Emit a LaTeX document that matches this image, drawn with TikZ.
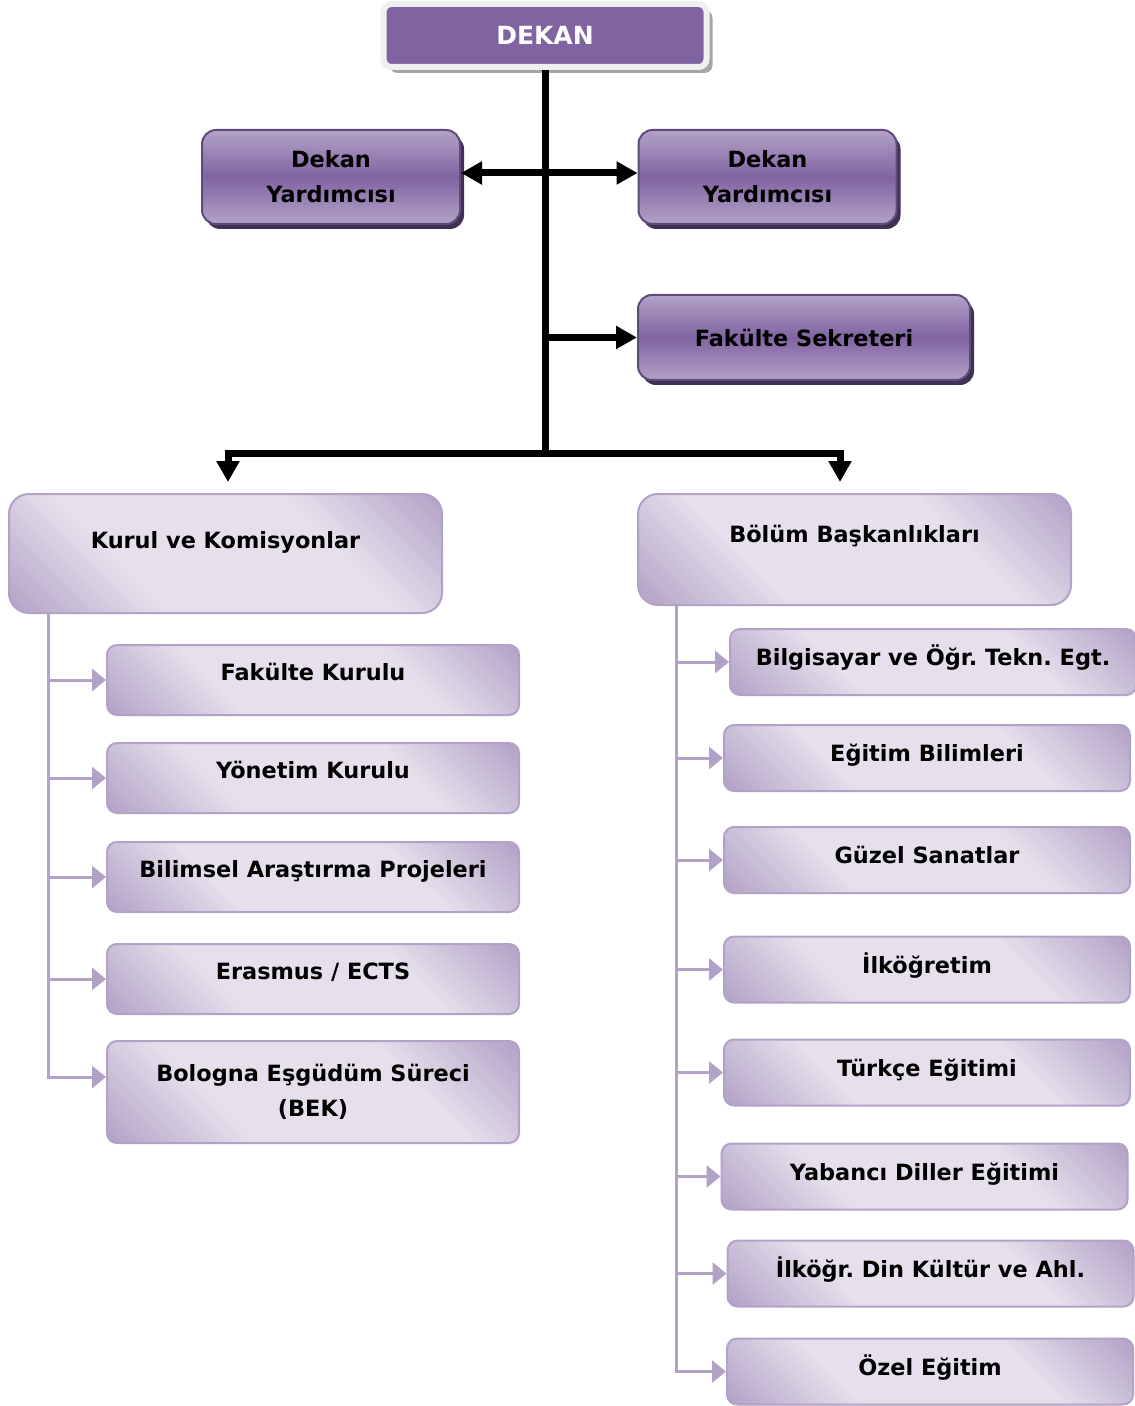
\documentclass[tikz,border=0pt]{standalone}
\usepackage{fontspec}
\setmainfont{DejaVu Sans}
\usetikzlibrary{arrows.meta,shadows,positioning}
\definecolor{mor}{HTML}{8064A2}
\definecolor{morkoyu}{HTML}{5F4A7D}
\definecolor{morgolge}{HTML}{403152}
\definecolor{moracik}{HTML}{B3A2C7}
\definecolor{morsoluk}{HTML}{E5E0EC}
\pgfdeclareverticalshading{morbant}{100bp}{color(0bp)=(moracik); color(25bp)=(moracik); color(50bp)=(mor); color(75bp)=(moracik); color(100bp)=(moracik)}
\pgfdeclarehorizontalshading{morcapraz}{100bp}{color(0bp)=(moracik); color(15bp)=(moracik); color(35bp)=(morsoluk); color(65bp)=(morsoluk); color(85bp)=(moracik); color(100bp)=(moracik)}
\frenchspacing
\begin{document}
\begin{tikzpicture}[x=0.5pt,y=-0.5pt,
  font=\fontsize{11.2}{17.5}\selectfont\bfseries,
  dekanbox/.style={draw=black!6, line width=3pt, fill=mor, rounded corners=4pt, minimum width=161.5pt, minimum height=31.5pt, text=white, font=\fontsize{12.5}{15}\selectfont\bfseries, drop shadow={shadow xshift=3pt, shadow yshift=-3pt, fill=black!35, opacity=1}},
  morkutu/.style={draw=morkoyu, line width=1pt, shading=morbant, rounded corners=7pt, align=center, inner sep=0pt, drop shadow={shadow xshift=2pt, shadow yshift=-2.5pt, fill=morgolge, opacity=1}},
  acikkutu/.style={draw=moracik, line width=1pt, shading=morcapraz, shading angle=45, rounded corners=5pt, align=center, inner sep=0pt, text height=0.75em},
  solkutu/.style={acikkutu, minimum width=206pt, minimum height=35pt, text depth=7pt},
  sagkutu/.style={acikkutu, minimum width=203pt, minimum height=33pt, text depth=4pt},
  kalin/.style={line width=3.5pt, -{Triangle[length=10.5pt,width=11pt]}},
  ince/.style={draw=moracik, line width=1.5pt, -{Triangle[length=7pt,width=11pt]}}]
\useasboundingbox (0,0) rectangle (1134,1406);
% ust kisim
\node (dekan) [dekanbox] at (545,35.5) {DEKAN};
\node (yrd1) [morkutu, minimum width=129pt, minimum height=47pt] at (331,177) {Dekan\\Yardımcısı};
\node (yrd2) [morkutu, minimum width=129pt, minimum height=47pt] at (767.5,177) {Dekan\\Yardımcısı};
\node (sekreter) [morkutu, minimum width=166pt, minimum height=42.5pt] at (804,337.5) {Fakülte Sekreteri};
\node (kurul) [acikkutu, rounded corners=10pt, minimum width=216.5pt, minimum height=59.5pt, text depth=12.5pt] at (225.5,553.5) {Kurul ve Komisyonlar};
\node (bolum) [acikkutu, rounded corners=10pt, minimum width=216.5pt, minimum height=55.5pt, text depth=14.5pt] at (854.5,549.5) {Bölüm Başkanlıkları};
% kurullar
\node (k1) [solkutu] at (313,680) {Fakülte Kurulu};
\node (k2) [solkutu, below=13pt of k1] {Yönetim Kurulu};
\node (k3) [solkutu, below=13.5pt of k2] {Bilimsel Araştırma Projeleri};
\node (k4) [solkutu, below=15pt of k3] {Erasmus / ECTS};
\node (k5) [solkutu, minimum height=51pt, text height=, text depth=, below=12.5pt of k4] {Bologna Eşgüdüm Süreci\\(BEK)};
% bolumler
\node (b1) [sagkutu] at (933,662) {Bilgisayar ve Öğr. Tekn. Egt.};
\node (b2) [sagkutu] at (927,758) {Eğitim Bilimleri};
\node (b3) [sagkutu] at (927,860) {Güzel Sanatlar};
\node (b4) [sagkutu] at (927,969.5) {İlköğretim};
\node (b5) [sagkutu] at (927,1072.5) {Türkçe Eğitimi};
\node (b6) [sagkutu] at (924.5,1176.5) {Yabancı Diller Eğitimi};
\node (b7) [sagkutu] at (930.5,1273.5) {İlköğr. Din Kültür ve Ahl.};
\node (b8) [sagkutu] at (930,1371.5) {Özel Eğitim};
% oklar
\coordinate (dal) at (545,453);
\draw[kalin, -] (dekan) -- (dal);
\draw[kalin, {Triangle[length=10.5pt,width=11pt]}-{Triangle[length=10.5pt,width=11pt]}] ([yshift=2pt]yrd1.east) -- ([yshift=2pt]yrd2.west);
\draw[kalin] (dekan |- sekreter) -- (sekreter);
\draw[kalin, shorten >=5.5pt] (dal) -| ([xshift=1.25pt]kurul.north);
\draw[kalin, shorten >=5.5pt] (dal) -| ([xshift=-7.25pt]bolum.north);
\coordinate (solkol) at ([xshift=20pt]kurul.south west);
\foreach \i in {1,...,4} \draw[ince] (solkol |- k\i.west) -- (k\i.west);
\draw[ince] (solkol) |- ([yshift=7.5pt]k5.west);
\coordinate (sagkol) at ([xshift=19.5pt]bolum.south west);
\foreach \i in {1,...,7} \draw[ince] (sagkol |- b\i.west) -- (b\i.west);
\draw[ince] (sagkol) |- (b8.west);
\end{tikzpicture}
\end{document}
